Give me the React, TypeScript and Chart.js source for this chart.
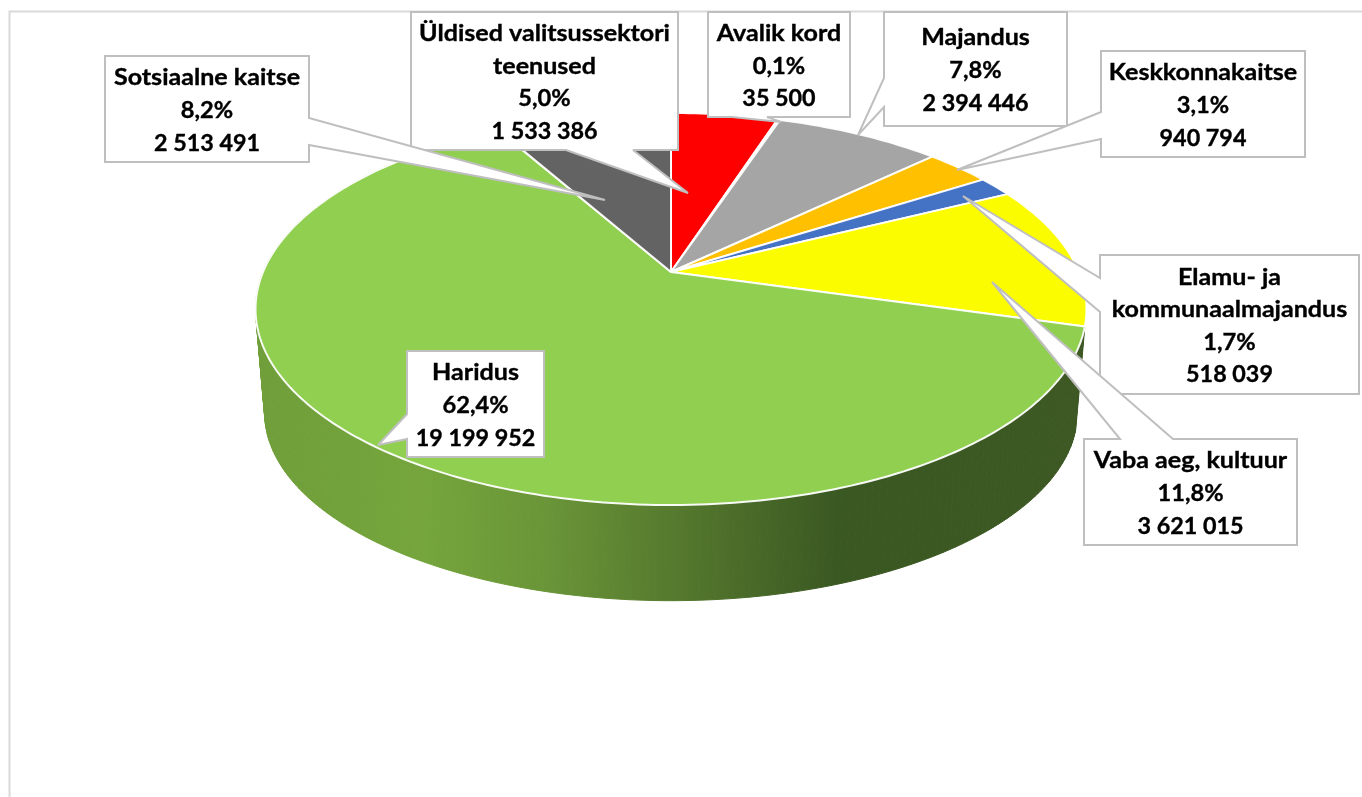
import React, { useEffect, useRef } from "react";
import { Chart, registerables } from "chart.js";

Chart.register(...registerables);

// ---- data ----
const categories: string[] = [
  "Üldised valitsussektori teenused",
  "Avalik kord",
  "Majandus",
  "Keskkonnakaitse",
  "Elamu- ja kommunaalmajandus",
  "Vaba aeg, kultuur",
  "Haridus",
  "Sotsiaalne kaitse",
];
const amounts: number[] = [1533386, 35500, 2394446, 940794, 518039, 3621015, 19199952, 2513491];
const sliceColors: string[] = ["#FF0000", "#ED7D31", "#A5A5A5", "#FFC000", "#4472C4", "#FCFC00", "#90CF50", "#636363"];
const nameLines: string[][] = [
  ["Üldised valitsussektori", "teenused"],
  ["Avalik kord"],
  ["Majandus"],
  ["Keskkonnakaitse"],
  ["Elamu- ja", "kommunaalmajandus"],
  ["Vaba aeg, kultuur"],
  ["Haridus"],
  ["Sotsiaalne kaitse"],
];

// ---- layout of the 3D projection and of the callouts ----
const P = 0.189;
const topPlane = { cx: 671, y0: 272, a: 408, b: 189 };
const basePlane = { cx: 671, y0: 377.5, a: 399, b: 181 };

type Callout = { x0: number; y0: number; x1: number; y1: number; side: "l" | "r" | "t" | "b"; p: number; q: number; tx: number; ty: number };
const callouts: Callout[] = [
  { x0: 411, y0: 12, x1: 678, y1: 150, side: "b", p: 566, q: 633, tx: 688, ty: 193 },
  { x0: 708, y0: 12, x1: 850, y1: 117, side: "b", p: 732, q: 767, tx: 781, ty: 122 },
  { x0: 884, y0: 12, x1: 1067, y1: 126, side: "l", p: 78, q: 107, tx: 858, ty: 135 },
  { x0: 1101, y0: 51, x1: 1305, y1: 157, side: "l", p: 112, q: 139, tx: 957, ty: 170 },
  { x0: 1100, y0: 255, x1: 1359, y1: 394, side: "l", p: 278, q: 312, tx: 963, ty: 196 },
  { x0: 1084, y0: 439, x1: 1297, y1: 545, side: "t", p: 1120, q: 1173, tx: 992, ty: 282 },
  { x0: 407, y0: 351, x1: 544, y1: 457, side: "l", p: 414, q: 439, tx: 378, ty: 445 },
  { x0: 105, y0: 56, x1: 309, y1: 162, side: "r", p: 118, q: 145, tx: 605, ty: 200 },
];

function project(plane: typeof topPlane, angle: number): [number, number] {
  const u = Math.cos(angle);
  const v = Math.sin(angle);
  const d = 1 - P * v;
  return [plane.cx + (plane.a * u) / d, plane.y0 + (plane.b * v) / d];
}

function arcSteps(start: number, end: number): number[] {
  const n = Math.max(2, Math.ceil(((end - start) / (Math.PI * 2)) * 360));
  const out: number[] = [];
  for (let i = 0; i <= n; i++) out.push(start + ((end - start) * i) / n);
  return out;
}

const groupFormat = (v: number) => String(v).replace(/\B(?=(\d{3})+(?!\d))/g, " ");

const pie3d = {
  id: "pie3d",
  beforeDatasetDraw(chart: any) {
    const { ctx } = chart;
    const arcs = chart.getDatasetMeta(0).data as any[];
    ctx.save();
    // frame
    ctx.strokeStyle = "#d9d9d9";
    ctx.lineWidth = 2;
    ctx.beginPath();
    ctx.moveTo(9.5, 797);
    ctx.lineTo(9.5, 11.5);
    ctx.lineTo(1362, 11.5);
    ctx.stroke();

    // side wall of the slice that spans the front of the pie
    const grad = ctx.createLinearGradient(255, 0, 1087, 0);
    grad.addColorStop(0, "#6f9e3a");
    grad.addColorStop(0.2, "#75a53c");
    grad.addColorStop(0.35, "#6a9538");
    grad.addColorStop(0.5, "#567a2e");
    grad.addColorStop(0.7, "#3a5822");
    grad.addColorStop(1, "#3d5823");
    ctx.fillStyle = grad;
    ctx.strokeStyle = grad;
    ctx.lineWidth = 1;
    for (const arc of arcs) {
      const s = arc.startAngle;
      const e = arc.endAngle;
      if (!(s < Math.PI / 2 && e > Math.PI / 2)) continue;
      const steps = arcSteps(s, e);
      for (let i = 0; i < steps.length - 1; i++) {
        const a = project(topPlane, steps[i]);
        const b = project(topPlane, steps[i + 1]);
        const c = project(basePlane, steps[i + 1]);
        const d = project(basePlane, steps[i]);
        ctx.beginPath();
        ctx.moveTo(a[0], a[1]);
        ctx.lineTo(b[0], b[1]);
        ctx.lineTo(c[0], c[1]);
        ctx.lineTo(d[0], d[1]);
        ctx.closePath();
        ctx.fill();
        ctx.stroke();
      }
    }

    // top faces
    arcs.forEach((arc, i) => {
      ctx.beginPath();
      ctx.moveTo(topPlane.cx, topPlane.y0);
      for (const t of arcSteps(arc.startAngle, arc.endAngle)) {
        const p = project(topPlane, t);
        ctx.lineTo(p[0], p[1]);
      }
      ctx.closePath();
      ctx.fillStyle = sliceColors[i];
      ctx.fill();
      ctx.strokeStyle = "rgba(255,255,255,0.95)";
      ctx.lineWidth = 2;
      ctx.lineJoin = "round";
      ctx.stroke();
    });
    ctx.restore();
    return false;
  },
  afterDatasetsDraw(chart: any) {
    const { ctx } = chart;
    const total = amounts.reduce((a, b) => a + b, 0);
    ctx.save();
    callouts.forEach((c, i) => {
      ctx.beginPath();
      ctx.moveTo(c.x0, c.y0);
      if (c.side === "t") {
        ctx.lineTo(c.p, c.y0);
        ctx.lineTo(c.tx, c.ty);
        ctx.lineTo(c.q, c.y0);
      }
      ctx.lineTo(c.x1, c.y0);
      if (c.side === "r") {
        ctx.lineTo(c.x1, c.p);
        ctx.lineTo(c.tx, c.ty);
        ctx.lineTo(c.x1, c.q);
      }
      ctx.lineTo(c.x1, c.y1);
      if (c.side === "b") {
        ctx.lineTo(c.q, c.y1);
        ctx.lineTo(c.tx, c.ty);
        ctx.lineTo(c.p, c.y1);
      }
      ctx.lineTo(c.x0, c.y1);
      if (c.side === "l") {
        ctx.lineTo(c.x0, c.q);
        ctx.lineTo(c.tx, c.ty);
        ctx.lineTo(c.x0, c.p);
      }
      ctx.closePath();
      ctx.fillStyle = "#ffffff";
      ctx.fill();
      ctx.strokeStyle = "#bfbfbf";
      ctx.lineWidth = 2;
      ctx.lineJoin = "miter";
      ctx.miterLimit = 3;
      ctx.stroke();

      const pct = ((amounts[i] / total) * 100).toFixed(1).replace(".", ",") + "%";
      const names = nameLines[i];
      const lines = [...names, pct, groupFormat(amounts[i])];
      const lineH = 32.6;
      const cy = (c.y0 + c.y1) / 2 + 2;
      const cx = (c.x0 + c.x1) / 2;
      ctx.fillStyle = "#000000";
      ctx.strokeStyle = "#000000";
      ctx.lineWidth = 0.35;
      ctx.font = '700 22px Lato, "Open Sans", sans-serif';
      ctx.textAlign = "center";
      ctx.textBaseline = "middle";
      lines.forEach((line, k) => {
        const stretch = k < names.length ? 1.14 : k === names.length ? 1.075 : 1.06;
        ctx.save();
        ctx.translate(cx, cy + (k - (lines.length - 1) / 2) * lineH);
        ctx.scale(stretch, 1);
        ctx.fillText(line, 0, 0);
        ctx.strokeText(line, 0, 0);
        ctx.restore();
      });
    });
    ctx.restore();
  },
};

export default function App() {
  const ref = useRef<HTMLCanvasElement>(null);
  useEffect(() => {
    const chart = new Chart(ref.current as HTMLCanvasElement, {
      type: "pie",
      data: {
        labels: categories,
        datasets: [{ data: amounts, backgroundColor: sliceColors }],
      },
      options: {
        animation: false,
        responsive: false,
        plugins: { legend: { display: false }, tooltip: { enabled: false } },
      },
      plugins: [pie3d],
    } as any);
    return () => chart.destroy();
  }, []);
  return (
    <div style={{ position: "fixed", left: 0, top: 0, width: 1362, height: 797, background: "#fff" }}>
      <canvas ref={ref} width={1362} height={797} style={{ display: "block" }} />
    </div>
  );
}
